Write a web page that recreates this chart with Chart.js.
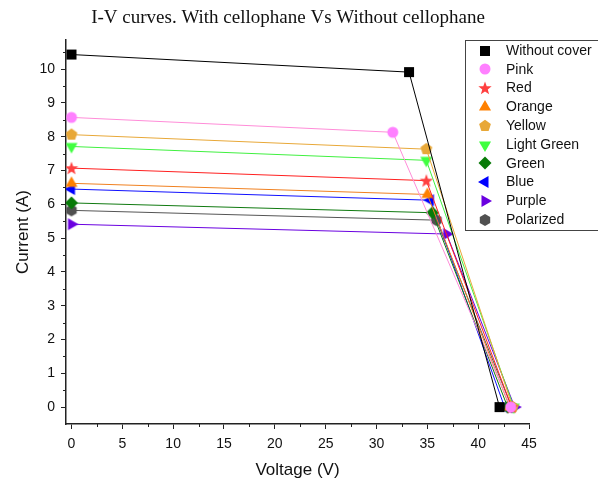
<!DOCTYPE html>
<html>
<head>
<meta charset="utf-8">
<script src="https://cdn.jsdelivr.net/npm/chart.js@4/dist/chart.umd.min.js"></script>
<style>
  html, body { margin: 0; padding: 0; background: #fff; }
  #wrap { width: 598px; height: 481px; }
</style>
</head>
<body>
<div id="wrap"><canvas id="iv-chart" width="598" height="481"></canvas></div>
<script>
// Series names (legend order)
const seriesNames = ['Without cover', 'Pink', 'Red', 'Orange', 'Yellow', 'Light Green', 'Green', 'Blue', 'Purple', 'Polarized'];

// Voltage (V) / Current (A)
const vWithout = [0, 33.2, 42.1];    const iWithout = [10.43, 9.91, 0];
const vPink = [0, 31.6, 43.2];       const iPink = [8.57, 8.13, 0];
const vRed = [0, 34.9, 43.3];        const iRed = [7.07, 6.70, 0];
const vOrange = [0, 35.0, 43.1];     const iOrange = [6.62, 6.29, 0];
const vYellow = [0, 34.9, 43.4];     const iYellow = [8.06, 7.63, 0];
const vLightGreen = [0, 34.9, 43.5]; const iLightGreen = [7.71, 7.30, 0];
const vGreen = [0, 35.5, 42.9];      const iGreen = [6.04, 5.75, 0];
const vBlue = [0, 35.3, 42.6];       const iBlue = [6.45, 6.12, 0];
const vPurple = [0, 36.9, 43.6];     const iPurple = [5.41, 5.12, 0];
const vPolarized = [0, 35.9, 43.3];  const iPolarized = [5.82, 5.53, 0];

// Tick labels
const xTicks = [0, 5, 10, 15, 20, 25, 30, 35, 40, 45];
const yTicks = [0, 1, 2, 3, 4, 5, 6, 7, 8, 9, 10];

const voltages = [vWithout, vPink, vRed, vOrange, vYellow, vLightGreen, vGreen, vBlue, vPurple, vPolarized];
const currents = [iWithout, iPink, iRed, iOrange, iYellow, iLightGreen, iGreen, iBlue, iPurple, iPolarized];

const chartTitle = 'I-V curves. With cellophane Vs Without cellophane';

// Styles
const markerColors = ['#000000', '#ff80ff', '#ff4040', '#ff8000', '#e8a838', '#40ff40', '#087a08', '#0000ff', '#6a00e0', '#505050'];
const lineColors = ['#000000', '#ff8cd8', '#ff2020', '#f08020', '#e8a838', '#40f040', '#107a10', '#1010ff', '#6a00e0', '#555555'];
const markerShapes = ['square', 'circle', 'star', 'triUp', 'pentagon', 'triDown', 'diamond', 'triLeft', 'triRight', 'hexagon'];

// Build a small canvas used as the point style for each series
function makeMarker(shape, color) {
    const s = 16, c = s / 2;
    const cv = document.createElement('canvas');
    cv.width = s; cv.height = s;
    const g = cv.getContext('2d');
    g.fillStyle = color;
    g.beginPath();
    const poly = (n, r, rot) => {
        for (let k = 0; k < n; k++) {
            const a = rot + k * 2 * Math.PI / n;
            const px = c + r * Math.cos(a), py = c + r * Math.sin(a);
            if (k === 0) g.moveTo(px, py); else g.lineTo(px, py);
        }
        g.closePath();
    };
    switch (shape) {
        case 'square': g.rect(c - 5, c - 5, 10, 10); break;
        case 'circle': g.arc(c, c, 5.5, 0, Math.PI * 2); break;
        case 'star':
            for (let k = 0; k < 10; k++) {
                const r = k % 2 === 0 ? 7 : 2.9;
                const a = -Math.PI / 2 + k * Math.PI / 5;
                const px = c + r * Math.cos(a), py = c + 0.5 + r * Math.sin(a);
                if (k === 0) g.moveTo(px, py); else g.lineTo(px, py);
            }
            g.closePath();
            break;
        case 'triUp': poly(3, 7, -Math.PI / 2); break;
        case 'triDown': poly(3, 7, Math.PI / 2); break;
        case 'triLeft': poly(3, 7, Math.PI); break;
        case 'triRight': poly(3, 7, 0); break;
        case 'pentagon': poly(5, 6.2, -Math.PI / 2); break;
        case 'diamond': poly(4, 6.5, -Math.PI / 2); break;
        case 'hexagon': poly(6, 6, -Math.PI / 2); break;
    }
    g.fill();
    return cv;
}

const markers = markerShapes.map((sh, k) => makeMarker(sh, markerColors[k]));

const datasets = seriesNames.map((name, k) => ({
    label: name,
    data: voltages[k].map((v, j) => ({ x: v, y: currents[k][j] })),
    borderColor: lineColors[k],
    backgroundColor: markerColors[k],
    borderWidth: 1,
    pointStyle: markers[k],
    pointRadius: 6,
    tension: 0,
    showLine: true
}));

// Title, minor ticks and legend box drawn on top
const extras = {
    id: 'extras',
    afterDraw(chart) {
        const ctx = chart.ctx;
        const xs = chart.scales.x, ys = chart.scales.y;
        const area = chart.chartArea;
        ctx.save();

        ctx.fillStyle = '#111';
        ctx.font = '19px "Liberation Serif", "Times New Roman", serif';
        ctx.textAlign = 'center';
        ctx.textBaseline = 'middle';
        ctx.fillText(chartTitle, 288, 18);

        ctx.strokeStyle = '#222';
        ctx.lineWidth = 1;
        ctx.beginPath();
        for (let v = 2.5; v < 45; v += 5) {
            const px = Math.round(xs.getPixelForValue(v)) + 0.5;
            ctx.moveTo(px, area.bottom); ctx.lineTo(px, area.bottom + 3);
        }
        for (let v = 0.5; v < 10.9; v += 1) {
            const py = Math.round(ys.getPixelForValue(v)) + 0.5;
            ctx.moveTo(area.left, py); ctx.lineTo(area.left - 3, py);
        }
        ctx.stroke();

        // Legend
        const lx = 465.5, ly = 40.5, lw = 140, lh = 190;
        ctx.fillStyle = '#fff';
        ctx.fillRect(lx, ly, lw, lh);
        ctx.strokeStyle = '#444';
        ctx.strokeRect(lx, ly, lw, lh);
        ctx.font = '14px "Liberation Sans", Arial, sans-serif';
        ctx.textAlign = 'left';
        ctx.textBaseline = 'middle';
        seriesNames.forEach((name, k) => {
            const cy = 50.5 + k * 18.8;
            ctx.drawImage(markers[k], 485 - 8, Math.round(cy) - 8);
            ctx.fillStyle = '#111';
            ctx.fillText(name, 506, cy + 0.5);
        });
        ctx.restore();
    }
};

new Chart(document.getElementById('iv-chart').getContext('2d'), {
    type: 'scatter',
    data: { datasets: datasets },
    options: {
        responsive: false,
        animation: false,
        layout: { padding: { left: 0, right: 69, top: 40, bottom: 0 } },
        plugins: {
            legend: { display: false },
            tooltip: { enabled: false },
            title: { display: false }
        },
        scales: {
            x: {
                type: 'linear',
                min: -0.54,
                max: 45,
                afterBuildTicks: (sc) => { sc.ticks = xTicks.map(v => ({ value: v })); },
                afterFit: (sc) => { sc.height = 57; },
                border: { display: true, color: '#222', width: 1.5 },
                grid: { drawOnChartArea: false, tickLength: 5, color: '#222', tickWidth: 1 },
                ticks: {
                    color: '#111',
                    padding: 7,
                    maxRotation: 0,
                    font: { family: '"Liberation Sans", Arial, sans-serif', size: 14 }
                },
                title: {
                    display: true,
                    text: 'Voltage (V)',
                    color: '#111',
                    padding: { top: 4, bottom: 0 },
                    font: { family: '"Liberation Sans", Arial, sans-serif', size: 17 }
                }
            },
            y: {
                type: 'linear',
                min: -0.5,
                max: 10.86,
                afterBuildTicks: (sc) => { sc.ticks = yTicks.map(v => ({ value: v })); },
                afterFit: (sc) => { sc.width = 66; },
                border: { display: true, color: '#222', width: 1.5 },
                grid: { drawOnChartArea: false, tickLength: 5, color: '#222', tickWidth: 1 },
                ticks: {
                    color: '#111',
                    padding: 6,
                    font: { family: '"Liberation Sans", Arial, sans-serif', size: 14 }
                },
                title: {
                    display: true,
                    text: 'Current (A)',
                    color: '#111',
                    padding: { top: 13, bottom: 6 },
                    font: { family: '"Liberation Sans", Arial, sans-serif', size: 17 }
                }
            }
        }
    },
    plugins: [extras]
});
</script>
</body>
</html>
